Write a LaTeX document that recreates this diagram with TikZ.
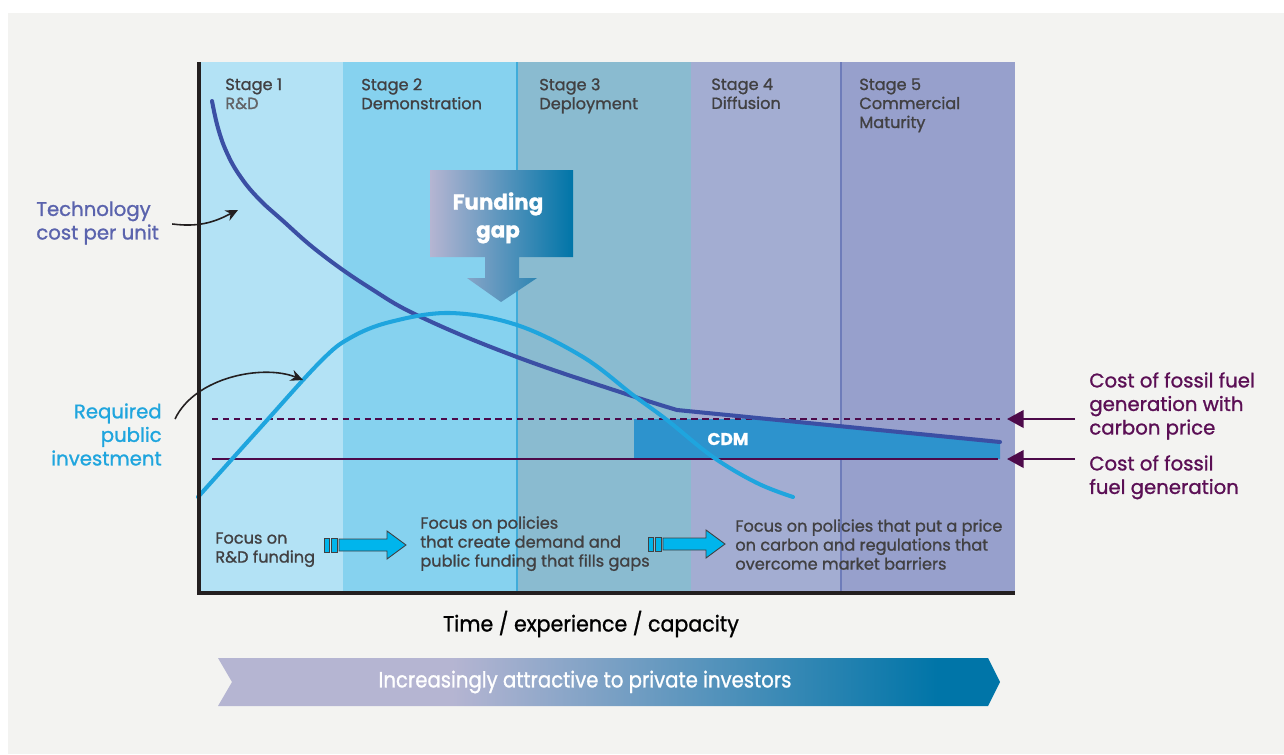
\documentclass[tikz,border=0pt]{standalone}
\usepackage{fontspec}
\setmainfont{Poppins}[FakeBold=1.1]
\usepackage{tikz}
\usetikzlibrary{arrows.meta, positioning, calc}
\definecolor{panelgray}{HTML}{F3F3F1}
\definecolor{stageone}{HTML}{B3E2F5}
\definecolor{stagetwo}{HTML}{86D2EF}
\definecolor{stagethree}{HTML}{8ABBD0}
\definecolor{stagefour}{HTML}{A3ADD2}
\definecolor{stagefive}{HTML}{97A0CC}
\definecolor{textdark}{HTML}{414042}
\definecolor{textsoft}{HTML}{636466}
\definecolor{techblue}{HTML}{3B4FA4}
\definecolor{techlabelcol}{HTML}{5A63AD}
\definecolor{pubblue}{HTML}{1FA5DE}
\definecolor{fossilpurple}{HTML}{4D0A4A}
\definecolor{fossiltext}{HTML}{5B0F55}
\definecolor{cdmblue}{HTML}{2D93CD}
\definecolor{gaplav}{HTML}{B5B5D2}
\definecolor{gapteal}{HTML}{0075A8}
\definecolor{arrowcyan}{HTML}{00B5EC}
\definecolor{calloutblack}{HTML}{231F20}
\pgfdeclarehorizontalshading{investshade}{100bp}{color(0bp)=(gaplav); color(40bp)=(gaplav); color(71bp)=(gapteal); color(100bp)=(gapteal)}

\begin{document}
\begin{tikzpicture}[
    x=0.02cm, y=-0.02cm,
    stagetext/.style={anchor=north west, inner sep=0pt, align=left, text=textdark, font=\fontsize{9.2}{10.8}\selectfont},
    sidelabel/.style={inner sep=0pt, font=\fontsize{11.2}{13.4}\selectfont},
    techline/.style={line width=2.3pt, draw=techblue, line cap=round},
    publine/.style={line width=2.3pt, draw=pubblue, line cap=round},
    fossilline/.style={line width=1.2pt, draw=fossilpurple},
    callout/.style={-{Stealth[length=7pt,width=6.5pt]}, line width=0.9pt, draw=calloutblack},
    fossilarrow/.style={-{Triangle[length=9.5pt,width=10pt]}, line width=1.4pt, draw=fossilpurple},
    pics/focusarrow/.style={code={
        \draw[fill=arrowcyan, draw=textdark, line width=0.5pt] (0,-7) rectangle (5,7);
        \draw[fill=arrowcyan, draw=textdark, line width=0.5pt] (7,-7) rectangle (13,7);
        \draw[fill=arrowcyan, draw=textdark, line width=0.5pt, line join=miter]
            (15,-6) -- (#1-19,-6) -- (#1-19,-14) -- (#1,0) -- (#1-19,14) -- (#1-19,6) -- (15,6) -- cycle;
    }}
]
    % Panel
    \fill[white] (0,0) rectangle (1284,754);
    \fill[panelgray] (8,13) rectangle (1284,754);
    \useasboundingbox (0,0) rectangle (1284,754);

    % Stage bands
    \foreach \xa/\xb/\col in {200/343/stageone, 343/517/stagetwo, 517/691/stagethree, 691/841/stagefour, 841/1015/stagefive}
        \fill[\col] (\xa,62) rectangle (\xb,593);
    \draw[line width=0.6pt, draw=pubblue!70!stagethree] (517,62) -- (517,593);
    \draw[line width=0.6pt, draw=techblue!45!stagefive] (841,62) -- (841,593);

    % Stage labels
    \node[stagetext] (stage1) at (225,78) {Stage 1\\\textcolor{textsoft}{R\&D}};
    \node[stagetext] (stage2) at (361,78) {Stage 2\\Demonstration};
    \node[stagetext] (stage3) at (539,78) {Stage 3\\Deployment};
    \node[stagetext] (stage4) at (711,78) {Stage 4\\Diffusion};
    \node[stagetext] (stage5) at (859,78) {Stage 5\\Commercial\\Maturity};

    % CDM band
    \fill[cdmblue] (634,419) -- (775,419) -- (1000,442) -- (1000,459) -- (634,459) -- cycle;
    \node[inner sep=0pt, text=white, font=\bfseries\fontsize{9.7}{11}\selectfont] (cdm) at (728,439) {CDM};

    % Fossil fuel cost lines
    \draw[fossilline, dash pattern=on 3.6pt off 2.6pt] (212,419) -- (1000,419);
    \draw[fossilline, line width=1.5pt] (212,459) -- (998,459);

    % Funding gap arrow
    \shade[left color=gaplav, right color=gapteal]
        (430,170) -- (573,170) -- (573,257) -- (519,257) -- (519,278) -- (537,278) -- (501,302)
        -- (467,278) -- (485,278) -- (485,257) -- (430,257) -- cycle;
    \node[inner sep=0pt, anchor=north, align=center, text=white, font=\bfseries\fontsize{12.2}{15.9}\selectfont] (gap) at (498,192) {Funding\\gap};

    % Curves
    \draw[techline] plot[smooth, tension=0.7] coordinates {(212,101) (218,128) (227,153) (240,176) (258,198) (282,220) (320,253) (370,288) (423,318) (517,357) (623,393) (677,410)} -- (1000,442);
    \draw[publine] plot[smooth, tension=0.6] coordinates {(198,497) (260,428) (320,362) (350,338) (390,322) (450,313) (517,325) (583,357) (633,395) (667,420) (713,457) (757,483) (793,497)};

    % Axes
    \draw[line width=2.8pt, draw=calloutblack] (199,62) -- (199,593) -- (1015,593);

    % Side labels and callouts
    \node[sidelabel, anchor=north west, align=left, text=techlabelcol] (techlabel) at (36,201) {Technology\\cost per unit};
    \coordinate (techtip) at (238,210);
    \draw[callout] ($(techlabel.east)+(13,1)$) .. controls +(30,4) and +(-20,10) .. (techtip);

    \node[sidelabel, anchor=north east, align=right, text=pubblue] (publabel) at (162,403) {Required\\public\\investment};
    \coordinate (pubtip) at (303,380);
    \draw[callout] ($(publabel.north east)+(13,16)$) .. controls +(20,-42) and +(-40,-16) .. (pubtip);

    \node[sidelabel, anchor=north west, align=left, text=fossiltext] (carbonlabel) at (1089,372) {Cost of fossil fuel\\generation with\\carbon price};
    \node[sidelabel, anchor=north west, align=left, text=fossiltext] (fossillabel) at (1089,455) {Cost of fossil\\fuel generation};
    \coordinate (carbontip) at (1007,419);
    \coordinate (fossiltip) at (1007,459);
    \draw[fossilarrow] ($(carbonlabel.west |- carbontip)+(-14,0)$) -- (carbontip);
    \draw[fossilarrow] ($(fossillabel.west |- fossiltip)+(-14,0)$) -- (fossiltip);

    % Policy focus
    \node[stagetext] (focusrd) at (215,532) {Focus on\\R\&D funding};
    \node[stagetext] (focusdemand) at (420,516) {Focus on policies\\that create demand and\\public funding that fills gaps};
    \node[stagetext] (focuscarbon) at (735,519) {Focus on policies that put a price\\on carbon and regulations that\\overcome market barriers};
    \pic at (324,545) {focusarrow=82};
    \pic at (648,544) {focusarrow=77};

    % Bottom
    \node[inner sep=0pt, text=black, font=\fontsize{12.5}{14}\selectfont] (xaxis) at (591,624) {\scalebox{0.937}[1]{Time / experience / capacity}};
    \shade[shading=investshade] (218,658) -- (988,658) -- (1000,682) -- (988,706) -- (218,706) -- (232,682) -- cycle;
    \node[inner sep=0pt, text=white, font=\fontsize{12.5}{14}\selectfont] (investors) at (585,682) {\scalebox{0.896}[1]{Increasingly attractive to private investors}};
\end{tikzpicture}
\end{document}
